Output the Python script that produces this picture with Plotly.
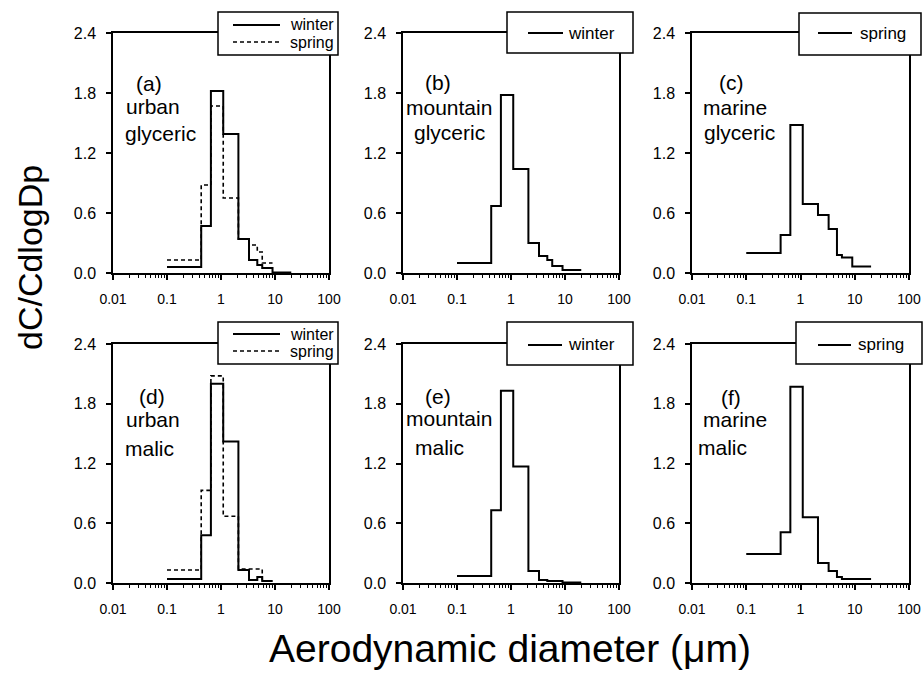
import plotly.graph_objects as go

# Andersen impactor stage boundaries (um)
edges = [0.1, 0.43, 0.65, 1.1, 2.1, 3.3, 4.7, 5.8, 9.0, 20.0]

a_winter = [0.06, 0.47, 1.82, 1.39, 0.34, 0.13, 0.08, 0.05, 0.005]
a_spring = [0.13, 0.88, 1.67, 0.75, 0.34, 0.28, 0.21, 0.10]
b_winter = [0.10, 0.67, 1.78, 1.04, 0.30, 0.17, 0.13, 0.07, 0.03]
c_spring = [0.20, 0.38, 1.48, 0.69, 0.58, 0.44, 0.18, 0.155, 0.065]
d_winter = [0.04, 0.48, 2.00, 1.42, 0.13, 0.03, 0.06, 0.02]
d_spring = [0.13, 0.93, 2.08, 0.67, 0.14, 0.14, 0.14, 0.02]
e_winter = [0.07, 0.73, 1.93, 1.17, 0.12, 0.03, 0.02, 0.02, 0.005]
f_spring = [0.29, 0.51, 1.97, 0.66, 0.20, 0.12, 0.06, 0.04, 0.04]

y_ticks = [0.0, 0.6, 1.2, 1.8, 2.4]
x_ticks = [0.01, 0.1, 1, 10, 100]
x_ticklabels = ["0.01", "0.1", "1", "10", "100"]
x_minor = [k * 10.0 ** n for n in range(-2, 2) for k in range(2, 10)]

panel_labels = [("(a)", "urban", "glyceric"), ("(b)", "mountain", "glyceric"),
                ("(c)", "marine", "glyceric"), ("(d)", "urban", "malic"),
                ("(e)", "mountain", "malic"), ("(f)", "marine", "malic")]

W, H = 924, 673
FONT = "Liberation Sans, Arial, Helvetica, sans-serif"
DASH = "4px,3px"

def px(x):
    return x / W

def py(y):
    return 1 - y / H

xdoms = [(113, 329), (403, 619), (692, 909)]
ydoms = [(33, 273), (344, 583)]

fig = go.Figure()

def step(series):
    xs = edges[:len(series) + 1]
    ys = list(series) + [series[-1]]
    return xs, ys

panels = [
    [("winter", a_winter, "solid"), ("spring", a_spring, DASH)],
    [("winter", b_winter, "solid")],
    [("spring", c_spring, "solid")],
    [("winter", d_winter, "solid"), ("spring", d_spring, DASH)],
    [("winter", e_winter, "solid")],
    [("spring", f_spring, "solid")],
]

# legend boxes: (x0, y0, x1, y1), line x-range, text right edge, row y centers, font size
legend_boxes = [
    ((218, 12, 338, 55), (233, 280), 336, [25, 42], 16),
    ((507, 12, 633, 53), (528, 563), 617, [33], 17),
    ((799, 13, 921, 55), (818, 852), 908, [33], 17),
    ((218, 322, 338, 364), (233, 280), 336, [334, 351], 16),
    ((507, 322, 633, 365), (528, 562), 617, [345], 17),
    ((796, 322, 922, 364), (818, 851), 906, [345], 17),
]

text_pos = [
    [(149, 83), (153, 106), (160, 134)],
    [(438, 82), (449, 107), (449, 133)],
    [(731, 82), (735, 107), (739, 133)],
    [(152, 396), (153, 419), (149, 448)],
    [(438, 396), (449, 418), (439, 447)],
    [(731, 397), (735, 419), (722, 447)],
]

for i, traces in enumerate(panels):
    r, c = divmod(i, 3)
    idx = "" if i == 0 else str(i + 1)
    for name, vals, dash in traces:
        xs, ys = step(vals)
        fig.add_trace(go.Scatter(
            x=xs, y=ys, mode="lines", name=name, line_shape="hv",
            line=dict(color="black", width=2 if dash == "solid" else 1.6, dash=dash),
            xaxis="x" + idx, yaxis="y" + idx, showlegend=False))
    xd = xdoms[c]
    yd = ydoms[r]
    axis_common = dict(showline=True, mirror=True, linecolor="black", linewidth=1.5,
                       ticks="outside", tickcolor="black", showgrid=False, zeroline=False,
                       automargin=False)
    fig.layout["xaxis" + idx] = dict(
        axis_common, type="log", range=[-2, 2], domain=[px(xd[0]), px(xd[1])],
        anchor="y" + idx, tickvals=x_ticks, ticktext=x_ticklabels, ticklen=5, tickwidth=1.5,
        ticklabelstandoff=7,
        tickfont=dict(family=FONT, size=14, color="black"),
        minor=dict(ticks="outside", ticklen=3, tickcolor="black", tickwidth=1, showgrid=False,
                   tickvals=x_minor))
    fig.layout["yaxis" + idx] = dict(
        axis_common, range=[0, 2.4], domain=[py(yd[1]), py(yd[0])],
        anchor="x" + idx, tickvals=y_ticks, tickformat=".1f", ticklen=5, tickwidth=1.5,
        ticklabelstandoff=7,
        tickfont=dict(family=FONT, size=16, color="black"))

    # legend drawn as box + sample lines + labels
    (bx0, by0, bx1, by1), (lx0, lx1), tx, rows, fs = legend_boxes[i]
    fig.add_shape(type="rect", xref="paper", yref="paper",
                  x0=px(bx0), x1=px(bx1), y0=py(by1), y1=py(by0),
                  fillcolor="white", line=dict(color="black", width=1.5), layer="above")
    for (name, vals, dash), ry in zip(traces, rows):
        fig.add_shape(type="line", xref="paper", yref="paper",
                      x0=px(lx0), x1=px(lx1), y0=py(ry), y1=py(ry),
                      line=dict(color="black", width=2 if dash == "solid" else 1.6, dash=dash),
                      layer="above")
        fig.add_annotation(text=name, x=px(tx), y=py(ry), xref="paper", yref="paper",
                           xanchor="right", yanchor="middle", showarrow=False,
                           font=dict(family=FONT, size=fs, color="black"))

    for txt, (tx_, ty_) in zip(panel_labels[i], text_pos[i]):
        fig.add_annotation(text=txt, x=px(tx_), y=py(ty_), xref="paper", yref="paper",
                           xanchor="center", yanchor="middle", showarrow=False,
                           font=dict(family=FONT, size=21, color="black"))

fig.add_annotation(text="dC/CdlogDp", x=px(30), y=py(258), xref="paper", yref="paper",
                   textangle=-90, showarrow=False, xanchor="center", yanchor="middle",
                   font=dict(family=FONT, size=34, color="black"))
fig.add_annotation(text="Aerodynamic diameter (\u03bcm)", x=px(510), y=py(648),
                   xref="paper", yref="paper", showarrow=False,
                   xanchor="center", yanchor="middle",
                   font=dict(family=FONT, size=39, color="black"))

fig.update_layout(width=W, height=H, margin=dict(l=0, r=0, t=0, b=0, autoexpand=False),
                  plot_bgcolor="white", paper_bgcolor="white", showlegend=False)

fig.write_html("out.html", config={"displayModeBar": False},
               post_script="document.body.style.margin='0px';"
                           "document.body.style.overflow='hidden';")
